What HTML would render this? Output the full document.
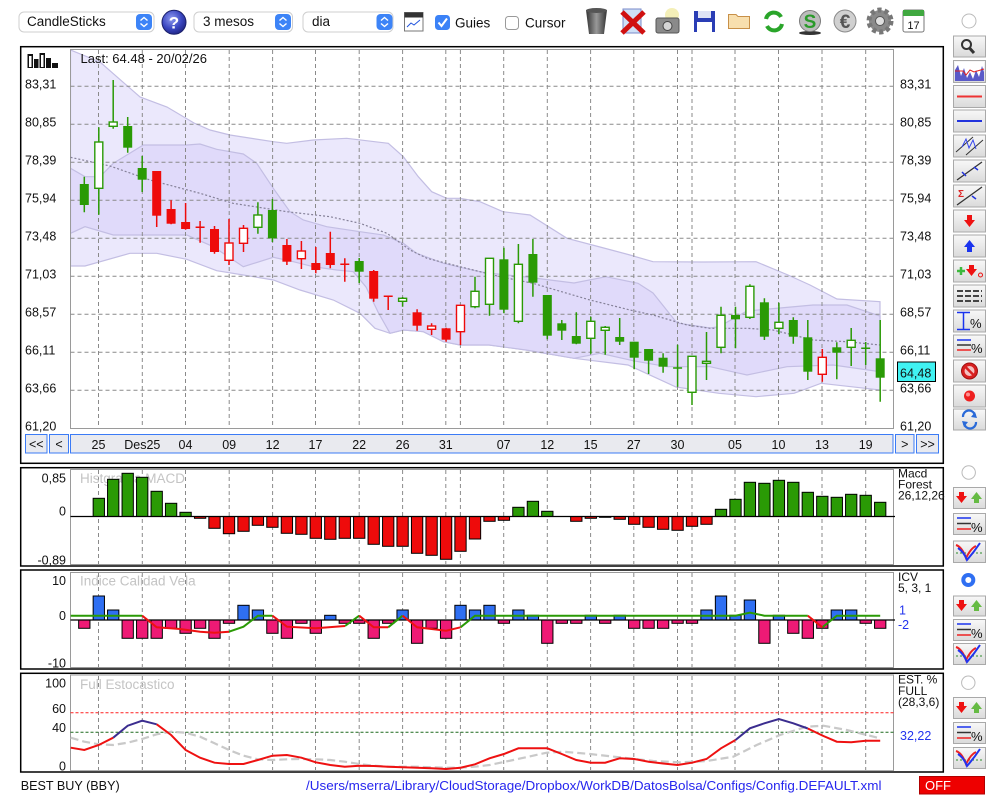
<!DOCTYPE html>
<html><head><meta charset="utf-8"><style>
html,body{margin:0;padding:0;background:#fff;}
svg{display:block;font-family:"Liberation Sans",Arial,sans-serif;}
.t{font-size:12.5px;fill:#111}
.s{font-size:12px;fill:#111}
.wm{font-size:13.5px;fill:#c4c4c4}
.grid{stroke:#8a8a8a;stroke-width:1;stroke-dasharray:4 3;fill:none}
.gw{stroke:#2a9a05;stroke-width:1.5;fill:none}
.rw{stroke:#ee0b0b;stroke-width:1.5;fill:none}
.gf rect{fill:#2a9a05}
.rf rect{fill:#ee0b0b}
.gh rect{fill:#fff;stroke:#2a9a05;stroke-width:1.4}
.rh rect{fill:#fff;stroke:#ee0b0b;stroke-width:1.4}
.mg rect{fill:#2a9a05;stroke:#000;stroke-width:1}
.mr rect{fill:#ee0b0b;stroke:#000;stroke-width:1}
.ib rect{fill:#2f6ff2;stroke:#000;stroke-width:1}
.ip rect{fill:#ee1a75;stroke:#000;stroke-width:1}
.btn{fill:url(#btn);stroke:#a9a9a9;stroke-width:1}
</style></head><body>
<svg width="1000" height="800" viewBox="0 0 1000 800">
<defs>
<linearGradient id="btn" x1="0" y1="0" x2="0" y2="1"><stop offset="0" stop-color="#f8f8f8"/><stop offset="1" stop-color="#dadada"/></linearGradient>
<radialGradient id="hlp" cx="0.4" cy="0.35" r="0.7"><stop offset="0" stop-color="#8e9af0"/><stop offset="0.6" stop-color="#3a46c0"/><stop offset="1" stop-color="#1e2380"/></radialGradient>
<linearGradient id="trash" x1="0" y1="0" x2="1" y2="0"><stop offset="0" stop-color="#333"/><stop offset="0.5" stop-color="#999"/><stop offset="1" stop-color="#333"/></linearGradient>
<clipPath id="pc"><rect x="70.5" y="49.5" width="823" height="379"/></clipPath>
</defs>

<!-- ===== Top toolbar ===== -->
<rect x="19" y="12" width="135" height="20" rx="5" fill="#fff" stroke="#cfcfcf"/>
<rect x="136" y="14" width="16" height="16" rx="4" fill="#3d84f7"/>
<path d="M140.5 20.5L144 17.5L147.5 20.5M140.5 23.5L144 26.5L147.5 23.5" stroke="#fff" stroke-width="1.4" fill="none"/>
<text x="27" y="26" style="font-size:13.5px" fill="#111">CandleSticks</text>
<circle cx="174" cy="22.3" r="12" fill="url(#hlp)" stroke="#1a1f6a" stroke-width="1"/>
<text x="174" y="28.5" text-anchor="middle" style="font-size:17px;font-weight:bold" fill="#fff">?</text>
<rect x="194" y="12" width="98.5" height="20" rx="5" fill="#fff" stroke="#cfcfcf"/>
<rect x="275" y="14" width="16" height="16" rx="4" fill="#3d84f7"/>
<path d="M279.5 20.5L283 17.5L286.5 20.5M279.5 23.5L283 26.5L286.5 23.5" stroke="#fff" stroke-width="1.4" fill="none"/>
<text x="203" y="26" style="font-size:13.5px" fill="#111">3 mesos</text>
<rect x="303" y="12" width="90" height="20" rx="5" fill="#fff" stroke="#cfcfcf"/>
<rect x="376.5" y="14" width="16" height="16" rx="4" fill="#3d84f7"/>
<path d="M381 20.5L384.5 17.5L388 20.5M381 23.5L384.5 26.5L388 23.5" stroke="#fff" stroke-width="1.4" fill="none"/>
<text x="312" y="26" style="font-size:13.5px" fill="#111">dia</text>
<rect x="404.5" y="12.5" width="18.5" height="18.5" fill="#fff" stroke="#777"/>
<rect x="404.5" y="12.5" width="18.5" height="5" fill="#333"/>
<path d="M407 27L411 23L414 25L420 20" stroke="#2255dd" stroke-width="1" fill="none"/>
<rect x="435" y="15" width="15" height="15" rx="3.5" fill="#3b82f7"/>
<path d="M438.5 22.5L441.5 26L447 18.5" stroke="#fff" stroke-width="2" fill="none"/>
<text x="455" y="27.3" style="font-size:13.5px" fill="#111">Guies</text>
<rect x="505.5" y="16.5" width="13" height="13" rx="3" fill="#fff" stroke="#9a9a9a"/>
<text x="525" y="27.3" style="font-size:13.5px" fill="#111">Cursor</text>
<path d="M586 10H607L604 34H589Z" fill="url(#trash)"/>
<ellipse cx="596.5" cy="10.5" rx="10.5" ry="2.5" fill="#555"/>
<rect x="623" y="9" width="18" height="24" fill="#cfe0f7" stroke="#7a8ac8"/>
<path d="M622 12L644 33M644 12L622 33" stroke="#d01010" stroke-width="5"/>
<circle cx="672" cy="15" r="7" fill="#f4efb8"/>
<rect x="656" y="18" width="23" height="15" rx="2" fill="#8a8a8a" stroke="#555"/>
<circle cx="667.5" cy="26" r="4.5" fill="#d4d4d4" stroke="#444"/>
<rect x="694" y="11" width="21" height="21" fill="#2a3db5"/>
<rect x="698" y="11" width="13" height="7" fill="#dfe3f5"/>
<rect x="697" y="22" width="15" height="10" fill="#fff"/>
<path d="M728.5 14.5H736L738 16.5H749.5V28.5H728.5Z" fill="#f8dfae" stroke="#c89048"/>
<path d="M766 19A8 8 0 0 1 781 17" stroke="#2aa52a" stroke-width="4" fill="none"/>
<path d="M782 24A8 8 0 0 1 767 26" stroke="#2aa52a" stroke-width="4" fill="none"/>
<ellipse cx="810" cy="33" rx="11" ry="2" fill="#333"/>
<circle cx="810" cy="21" r="10.5" fill="#bcbcbc" stroke="#7a7a7a"/>
<text x="810" y="28" text-anchor="middle" style="font-size:19px;font-weight:bold" fill="#2a9a2a">S</text>
<circle cx="845" cy="21" r="11" fill="#d0d0d0" stroke="#8a8a8a"/>
<text x="845" y="28" text-anchor="middle" style="font-size:19px;font-weight:bold" fill="#555">€</text>
<circle cx="880" cy="21" r="11" fill="#8a8a8a" stroke="#777" stroke-width="5" stroke-dasharray="4 3"/>
<circle cx="880" cy="21" r="4.5" fill="#e0e0e0" stroke="#555"/>
<rect x="903" y="10" width="21" height="22" rx="2" fill="#fff" stroke="#777"/>
<rect x="903" y="10" width="21" height="6" fill="#3fa83f"/>
<text x="913.5" y="29" text-anchor="middle" style="font-size:11px" fill="#111">17</text>
<circle cx="969" cy="21" r="7" fill="#fff" stroke="#bbb"/>

<!-- ===== Main chart frame ===== -->
<rect x="20.7" y="46.7" width="922.6" height="416.6" fill="#fff" stroke="#000" stroke-width="1.5"/>
<g clip-path="url(#pc)">
<polygon fill="#ebe8fc" stroke="#c3bee3" stroke-width="1.2" points="70.5,50 100,62 140,97 167,107 194,123 210,130 230,135 273.3,141.7 286.7,143.3 313.3,140 346.7,138.3 388.3,143.3 403.3,156.7 418.3,176.7 431.7,191.7 446.7,198.3 460,198.3 480,201.7 503,211.7 530,215 567,238.3 600,247 630,255 653,261.7 703,262 756,261.7 788,275 810,285 837,299 880,301.7 880,390 821,383.3 794,393.3 756,396.7 719,393.3 676,387 628,365 574,358.3 526,350 489,345 460,345 443.3,341.7 423.3,331.7 403.3,330 390,333.3 375,328.3 360,313.3 333.3,300 300,290 273.3,280 243.3,275 216.7,270.7 186.7,259.3 156.7,253.3 130,253.3 85,266 70.5,266"/>
<polygon fill="#e0dafa" stroke="#c3bee3" stroke-width="1.2" points="70.5,168.3 85,176.7 100,176.7 113.3,163.3 143.3,145 186.7,145 200,144 216.7,149.3 243.3,154 256.7,163.3 273.3,188.3 290,211.7 303.3,220 326.7,226.7 360,231.7 383.3,235 403.3,243.3 416.7,253.3 443.3,263.3 480,271.7 488,273 526,277 574,283 606,276.7 638,283.3 653,293 677,323 710,328 719,326.7 747,311 780,308 813,305 847,305 880,316 880,371.7 833,365 787,366.7 747,375 710,366.7 667,366.7 633,360.7 600,353.3 574,358.3 526,350 489,345 460,345 443.3,341.7 423.3,331.7 403.3,330 390,333.3 378,312 366,287 353.3,271.7 336.7,270 313.3,266.7 293.3,261.7 273.3,257.3 243.3,266.7 213.3,246.7 186.7,235 113.3,235 85,226.7 70.5,233.3"/>
</g>
<rect x="70.5" y="49.5" width="823" height="379" fill="none" stroke="#9a9a9a"/>
<path class="grid" d="M98.5 50V428M142.3 50V428M185.5 50V428M229.2 50V428M272.6 50V428M315.5 50V428M359.2 50V428M402.6 50V428M445.8 50V428M460.4 50V428M503.7 50V428M547.3 50V428M590.6 50V428M633.8 50V428M677.5 50V428M692 50V428M735 50V428M778.5 50V428M822 50V428M865.7 50V428"/>
<path class="grid" d="M70.5 86.3H893M70.5 124.3H893M70.5 162.3H893M70.5 200.3H893M70.5 238.3H893M70.5 276.3H893M70.5 314.3H893M70.5 352.3H893M70.5 390.3H893"/>
<polyline fill="none" stroke="#858198" stroke-width="1.2" stroke-dasharray="2 2" points="70.5,157.3 110,166 150,180 200,193.3 233,203.3 287,211.7 330,216.7 360,223.3 387,233.3 410,250 427,258.3 460,266.7 500,276.7 533,283.3 550,288.3 590,300 630,310 653,315 687,325 710,328.3 747,328.3 773,330 813,340 847,341.7 880,345"/>

<path class="gw" d="M84.3 176.7V212.3M98.8 127.3V214.7M113.2 80V128.7M127.7 117V152.7M142.2 156V192M257.9 202.3V233.7M272.4 199V242M359.2 258V283M402.6 297V306.7M475 276.7V308.3M489.5 258.3V315.7M503.9 247.7V313.3M518.4 244V323.3M532.9 239V296.7M547.3 295V339.3M561.8 320V340M576.3 312.3V344.3M590.8 316.7V353.7M605.2 326V354.7M619.7 318V345M634.2 341.7V369.3M648.6 349V374M663.1 353.3V372.7M677.6 344.7V386.7M692 355.7V405M706.5 332V380M721 306.7V353.3M735.5 306.7V348.3M749.9 284.3V319M764.4 298.3V340M778.9 302.7V334.3M793.3 317.3V343.7M807.8 320V380M836.8 342.3V379.3M851.2 328V366M865.7 342V365M880.2 320V401.7M673.1 368H682.1M861.2 348.3H870.2"/>
<path class="rw" d="M156.7 171V227M171.1 200.3V224.3M185.6 203V229.7M200.1 221V242.7M214.5 226V253.7M229 219V265M243.5 225V252M286.9 239V265M301.4 241V269M315.8 247V273.3M330.3 231.7V268.3M344.8 258.3V281.7M373.7 270V301.7M388.2 295.7V310M417.1 309.3V330.7M431.6 323.3V335M446.1 327.7V341.7M460.5 305V345M822.3 349V381.7M195.6 227.3H204.6M340.3 264.3H349.3M383.7 296.3H392.7"/>
<g class="gf">
<rect x="79.8" y="184" width="9" height="21"/><rect x="123.2" y="126" width="9" height="21.7"/><rect x="137.7" y="168" width="9" height="11.7"/><rect x="267.9" y="210" width="9" height="28.3"/><rect x="354.7" y="261" width="9" height="10.7"/><rect x="499.4" y="259.3" width="9" height="50.4"/><rect x="528.4" y="254" width="9" height="28.7"/><rect x="542.8" y="295" width="9" height="40.7"/><rect x="557.3" y="323.3" width="9" height="7.4"/><rect x="571.8" y="336" width="9" height="7.7"/><rect x="615.2" y="337" width="9" height="4.7"/><rect x="629.7" y="341.7" width="9" height="16"/><rect x="644.1" y="349" width="9" height="11.7"/><rect x="658.6" y="357.7" width="9" height="9"/><rect x="731" y="315" width="9" height="4.3"/><rect x="759.9" y="302.3" width="9" height="34.4"/><rect x="788.8" y="320" width="9" height="16.7"/><rect x="803.3" y="337.3" width="9" height="34.4"/><rect x="832.3" y="347.3" width="9" height="5.4"/><rect x="875.7" y="358.3" width="9" height="19.4"/>
</g>
<g class="gh">
<rect x="94.8" y="142" width="8" height="46.3"/><rect x="109.2" y="122" width="8" height="4.3"/><rect x="253.9" y="215" width="8" height="12.3"/><rect x="398.6" y="298.3" width="8" height="3"/><rect x="471" y="291.3" width="8" height="15.4"/><rect x="485.5" y="258.3" width="8" height="46"/><rect x="514.4" y="264.3" width="8" height="57"/><rect x="586.8" y="321.3" width="8" height="17"/><rect x="601.2" y="327.3" width="8" height="3"/><rect x="688" y="356.3" width="8" height="36"/><rect x="702.5" y="361.3" width="8" height="2"/><rect x="717" y="315.3" width="8" height="32"/><rect x="745.9" y="286.3" width="8" height="31"/><rect x="774.9" y="322.3" width="8" height="6"/><rect x="847.2" y="340.3" width="8" height="7"/>
</g>
<g class="rf">
<rect x="152.2" y="171" width="9" height="44.7"/><rect x="166.6" y="209" width="9" height="14.7"/><rect x="181.1" y="222" width="9" height="7"/><rect x="210" y="229" width="9" height="23"/><rect x="282.4" y="245" width="9" height="16.7"/><rect x="311.3" y="263" width="9" height="7"/><rect x="325.8" y="253" width="9" height="12"/><rect x="369.2" y="271" width="9" height="27.7"/><rect x="412.6" y="312.3" width="9" height="13.4"/><rect x="441.6" y="328.3" width="9" height="11.4"/>
</g>
<g class="rh">
<rect x="225" y="243" width="8" height="17.3"/><rect x="239.5" y="228.3" width="8" height="15"/><rect x="297.4" y="251" width="8" height="7.7"/><rect x="427.6" y="326" width="8" height="3.3"/><rect x="456.5" y="305.3" width="8" height="26.4"/><rect x="818.3" y="357.3" width="8" height="17"/>
</g>

<g fill="#111">
<rect x="27.5" y="54" width="5.5" height="14"/><rect x="34" y="59" width="4.5" height="9"/><rect x="39.5" y="53" width="5.5" height="15"/><rect x="46" y="58" width="5" height="10"/><rect x="52" y="63" width="6" height="5"/>
</g>
<rect x="29" y="56" width="2.5" height="11" fill="#fff"/><rect x="41" y="55" width="2.5" height="12" fill="#fff"/>
<text x="80.5" y="63" style="font-size:13px" fill="#111">Last: 64.48 - 20/02/26</text>

<g class="t">
<text x="25" y="88.3">83,31</text><text x="25" y="126.3">80,85</text><text x="25" y="164.3">78,39</text><text x="25" y="202.3">75,94</text><text x="25" y="240.3">73,48</text><text x="25" y="278.3">71,03</text><text x="25" y="316.3">68,57</text><text x="25" y="354.3">66,11</text><text x="25" y="392.3">63,66</text><text x="25" y="430.3">61,20</text>
<text x="900" y="88.3">83,31</text><text x="900" y="126.3">80,85</text><text x="900" y="164.3">78,39</text><text x="900" y="202.3">75,94</text><text x="900" y="240.3">73,48</text><text x="900" y="278.3">71,03</text><text x="900" y="316.3">68,57</text><text x="900" y="354.3">66,11</text><text x="900" y="392.3">63,66</text><text x="900" y="430.3">61,20</text>
</g>
<rect x="897.5" y="362" width="38" height="19.5" fill="#40f2f2" stroke="#000" stroke-width="1"/>
<text x="900" y="377.5" class="t">64,48</text>

<g fill="#e9eaef" stroke="#3b7bf6" stroke-width="1">
<rect x="25.5" y="434.5" width="21.5" height="18.5"/><rect x="49.5" y="434.5" width="19" height="18.5"/><rect x="70.5" y="434.5" width="822.5" height="18.5"/><rect x="895.5" y="434.5" width="18.5" height="18.5"/><rect x="916.5" y="434.5" width="22" height="18.5"/>
</g>
<g class="t" text-anchor="middle">
<text x="36.3" y="448.5">&lt;&lt;</text><text x="59" y="448.5">&lt;</text><text x="904.8" y="448.5">&gt;</text><text x="927.5" y="448.5">&gt;&gt;</text>
<text x="98.5" y="449">25</text><text x="142.3" y="449">Des25</text><text x="185.5" y="449">04</text><text x="229.2" y="449">09</text><text x="272.6" y="449">12</text><text x="315.5" y="449">17</text><text x="359.2" y="449">22</text><text x="402.6" y="449">26</text><text x="445.8" y="449">31</text><text x="503.7" y="449">07</text><text x="547.3" y="449">12</text><text x="590.6" y="449">15</text><text x="633.8" y="449">27</text><text x="677.5" y="449">30</text><text x="735" y="449">05</text><text x="778.5" y="449">10</text><text x="822" y="449">13</text><text x="865.7" y="449">19</text>
</g>

<!-- ===== MACD panel ===== -->
<rect x="20.7" y="467.7" width="922.6" height="98.3" fill="#fff" stroke="#000" stroke-width="1.5"/>
<rect x="70.5" y="469.5" width="823" height="95" fill="none" stroke="#9a9a9a"/>
<path class="grid" d="M98.5 470v94M142.3 470v94M185.5 470v94M229.2 470v94M272.6 470v94M315.5 470v94M359.2 470v94M402.6 470v94M445.8 470v94M460.4 470v94M503.7 470v94M547.3 470v94M590.6 470v94M633.8 470v94M677.5 470v94M692 470v94M735 470v94M778.5 470v94M822 470v94M865.7 470v94"/>
<text x="80" y="483" class="wm">Histgrama MACD</text>
<g class="mg">
<rect x="93.15" y="498.3" width="11.3" height="18.2"/><rect x="107.55" y="479.3" width="11.3" height="37.2"/><rect x="122.05" y="473.3" width="11.3" height="43.2"/><rect x="136.55" y="477.3" width="11.3" height="39.2"/><rect x="151.05" y="491.3" width="11.3" height="25.2"/><rect x="165.45" y="503.3" width="11.3" height="13.2"/><rect x="179.95" y="512.3" width="11.3" height="4.2"/><rect x="512.75" y="507.3" width="11.3" height="9.2"/><rect x="527.25" y="501.3" width="11.3" height="15.2"/><rect x="541.65" y="511.3" width="11.3" height="5.2"/><rect x="715.35" y="509.3" width="11.3" height="7.2"/><rect x="729.85" y="499.3" width="11.3" height="17.2"/><rect x="744.25" y="482.3" width="11.3" height="34.2"/><rect x="758.75" y="483.3" width="11.3" height="33.2"/><rect x="773.25" y="480.3" width="11.3" height="36.2"/><rect x="787.65" y="482.3" width="11.3" height="34.2"/><rect x="802.15" y="492.3" width="11.3" height="24.2"/><rect x="816.65" y="496.3" width="11.3" height="20.2"/><rect x="831.15" y="497.3" width="11.3" height="19.2"/><rect x="845.55" y="494.3" width="11.3" height="22.2"/><rect x="860.05" y="495.3" width="11.3" height="21.2"/><rect x="874.55" y="502.3" width="11.3" height="14.2"/>
</g>
<g class="mr">
<rect x="194.45" y="516.5" width="11.3" height="1.8"/><rect x="208.85" y="516.5" width="11.3" height="11.8"/><rect x="223.35" y="516.5" width="11.3" height="17.2"/><rect x="237.85" y="516.5" width="11.3" height="14.8"/><rect x="252.25" y="516.5" width="11.3" height="8.8"/><rect x="266.75" y="516.5" width="11.3" height="10.8"/><rect x="281.25" y="516.5" width="11.3" height="16.8"/><rect x="295.75" y="516.5" width="11.3" height="17.8"/><rect x="310.15" y="516.5" width="11.3" height="21.8"/><rect x="324.65" y="516.5" width="11.3" height="22.8"/><rect x="339.15" y="516.5" width="11.3" height="21.8"/><rect x="353.55" y="516.5" width="11.3" height="21.8"/><rect x="368.05" y="516.5" width="11.3" height="27.8"/><rect x="382.55" y="516.5" width="11.3" height="29.8"/><rect x="396.95" y="516.5" width="11.3" height="29.8"/><rect x="411.45" y="516.5" width="11.3" height="36.8"/><rect x="425.95" y="516.5" width="11.3" height="38.8"/><rect x="440.45" y="516.5" width="11.3" height="42.8"/><rect x="454.85" y="516.5" width="11.3" height="34.8"/><rect x="469.35" y="516.5" width="11.3" height="22.5"/><rect x="483.85" y="516.5" width="11.3" height="4.8"/><rect x="498.25" y="516.5" width="11.3" height="3.8"/><rect x="570.65" y="516.5" width="11.3" height="4.8"/><rect x="585.15" y="516.5" width="11.3" height="1.8"/><rect x="599.55" y="516.5" width="11.3" height="0.8"/><rect x="614.05" y="516.5" width="11.3" height="2.8"/><rect x="628.55" y="516.5" width="11.3" height="7.8"/><rect x="642.95" y="516.5" width="11.3" height="10.8"/><rect x="657.45" y="516.5" width="11.3" height="12.8"/><rect x="671.95" y="516.5" width="11.3" height="13.8"/><rect x="686.35" y="516.5" width="11.3" height="9.8"/><rect x="700.85" y="516.5" width="11.3" height="7.8"/>
</g>
<path d="M70.5 516.5H895" stroke="#000" stroke-width="1.2"/>
<g class="t" text-anchor="end">
<text x="66" y="482.7">0,85</text><text x="66" y="515.7">0</text><text x="66" y="564.5">-0,89</text>
</g>
<g class="s"><text x="898" y="477.5">Macd</text><text x="898" y="488.5">Forest</text><text x="898" y="499.5">26,12,26</text></g>

<!-- ===== ICV panel ===== -->
<rect x="20.7" y="570" width="922.6" height="99" fill="#fff" stroke="#000" stroke-width="1.5"/>
<rect x="70.5" y="572.5" width="823" height="95" fill="none" stroke="#9a9a9a"/>
<path class="grid" d="M98.5 573v94M142.3 573v94M185.5 573v94M229.2 573v94M272.6 573v94M315.5 573v94M359.2 573v94M402.6 573v94M445.8 573v94M460.4 573v94M503.7 573v94M547.3 573v94M590.6 573v94M633.8 573v94M677.5 573v94M692 573v94M735 573v94M778.5 573v94M822 573v94M865.7 573v94"/>
<text x="80" y="585.5" class="wm">Indice Calidad Vela</text>
<g class="ib">
<rect x="93.15" y="596" width="11.3" height="24"/><rect x="107.55" y="610" width="11.3" height="10"/><rect x="237.85" y="605.3" width="11.3" height="14.7"/><rect x="252.25" y="610" width="11.3" height="10"/><rect x="324.65" y="615.3" width="11.3" height="4.7"/><rect x="396.95" y="610" width="11.3" height="10"/><rect x="454.85" y="605.3" width="11.3" height="14.7"/><rect x="469.35" y="610" width="11.3" height="10"/><rect x="483.85" y="605.3" width="11.3" height="14.7"/><rect x="512.75" y="610" width="11.3" height="10"/><rect x="527.25" y="615.3" width="11.3" height="4.7"/><rect x="585.15" y="615.3" width="11.3" height="4.7"/><rect x="614.05" y="615.3" width="11.3" height="4.7"/><rect x="700.85" y="610" width="11.3" height="10"/><rect x="715.35" y="596" width="11.3" height="24"/><rect x="729.85" y="615.3" width="11.3" height="4.7"/><rect x="744.25" y="600" width="11.3" height="20"/><rect x="773.25" y="615.3" width="11.3" height="4.7"/><rect x="831.15" y="610" width="11.3" height="10"/><rect x="845.55" y="610" width="11.3" height="10"/>
</g>
<g class="ip">
<rect x="78.65" y="620" width="11.3" height="8.3"/><rect x="122.05" y="620" width="11.3" height="18.3"/><rect x="136.55" y="620" width="11.3" height="18.3"/><rect x="151.05" y="620" width="11.3" height="18.3"/><rect x="165.45" y="620" width="11.3" height="8.3"/><rect x="179.95" y="620" width="11.3" height="13.3"/><rect x="194.45" y="620" width="11.3" height="8.3"/><rect x="208.85" y="620" width="11.3" height="18.3"/><rect x="223.35" y="620" width="11.3" height="3.3"/><rect x="266.75" y="620" width="11.3" height="13.3"/><rect x="281.25" y="620" width="11.3" height="18.3"/><rect x="295.75" y="620" width="11.3" height="3.3"/><rect x="310.15" y="620" width="11.3" height="13.3"/><rect x="339.15" y="620" width="11.3" height="3.3"/><rect x="353.55" y="620" width="11.3" height="3.3"/><rect x="368.05" y="620" width="11.3" height="18.3"/><rect x="382.55" y="620" width="11.3" height="3.3"/><rect x="411.45" y="620" width="11.3" height="23.3"/><rect x="425.95" y="620" width="11.3" height="8.3"/><rect x="440.45" y="620" width="11.3" height="18.3"/><rect x="498.25" y="620" width="11.3" height="3.3"/><rect x="541.65" y="620" width="11.3" height="23.3"/><rect x="556.15" y="620" width="11.3" height="3.3"/><rect x="570.65" y="620" width="11.3" height="3.3"/><rect x="599.55" y="620" width="11.3" height="3.3"/><rect x="628.55" y="620" width="11.3" height="8.3"/><rect x="642.95" y="620" width="11.3" height="8.3"/><rect x="657.45" y="620" width="11.3" height="8.3"/><rect x="671.95" y="620" width="11.3" height="3.3"/><rect x="686.35" y="620" width="11.3" height="3.3"/><rect x="758.75" y="620" width="11.3" height="23.3"/><rect x="787.65" y="620" width="11.3" height="13.3"/><rect x="802.15" y="620" width="11.3" height="18.3"/><rect x="816.65" y="620" width="11.3" height="8.3"/><rect x="860.05" y="620" width="11.3" height="3.3"/><rect x="874.55" y="620" width="11.3" height="8.3"/>
</g>
<path d="M70.5 620H895" stroke="#000" stroke-width="1.2"/>
<path d="M70.7 615.7H142.2M229 631.7L243.5 626.7L257.9 615.7H272.4M345 626L359.2 615.7M388.2 627.3L402.6 615.7M460.5 627.3L475 615.7H735.5L749.9 612.7L764.4 615.7H807.8M822.3 627.3L836.8 615.7H880.2" stroke="#2a9a05" stroke-width="2" fill="none"/>
<path d="M142.2 615.7L156.7 627.3L180 629L200.1 631.7L214.5 632.7L229 631.7M272.4 615.7L286.9 626.7L315.8 628.3L345 626M359.2 615.7L373.7 627.3L388.2 627.3M402.6 615.7L417.1 627.3L446.1 630.7L460.5 627.3M807.8 615.7L822.3 627.3" stroke="#ee1111" stroke-width="2" fill="none"/>
<g class="t" text-anchor="end"><text x="66" y="585">10</text><text x="66" y="620">0</text><text x="66" y="667.5">-10</text></g>
<g class="s"><text x="898" y="581">ICV</text><text x="898" y="592">5, 3, 1</text></g>
<text x="899" y="614.3" class="t" style="fill:#2233ee">1</text>
<text x="898" y="629" class="t" style="fill:#2233ee">-2</text>

<!-- ===== Stochastic panel ===== -->
<rect x="20.7" y="673.3" width="922.6" height="98.7" fill="#fff" stroke="#000" stroke-width="1.5"/>
<rect x="70.5" y="675" width="823" height="95.7" fill="none" stroke="#9a9a9a"/>
<path class="grid" d="M98.5 676v94M142.3 676v94M185.5 676v94M229.2 676v94M272.6 676v94M315.5 676v94M359.2 676v94M402.6 676v94M445.8 676v94M460.4 676v94M503.7 676v94M547.3 676v94M590.6 676v94M633.8 676v94M677.5 676v94M692 676v94M735 676v94M778.5 676v94M822 676v94M865.7 676v94"/>
<text x="80" y="689" class="wm">Full Estocastico</text>
<path d="M70.5 712.7H895" stroke="#ff2020" stroke-width="1" stroke-dasharray="3 2"/>
<path d="M70.5 732.3H895" stroke="#1f6a1f" stroke-width="1" stroke-dasharray="3 2"/>
<polyline fill="none" stroke="#c9c9c9" stroke-width="2.2" stroke-dasharray="8 4" points="70.7,737.7 84.3,741.7 98.8,744.3 113.2,745 127.7,742.7 142.2,739 156.7,734.3 171.1,731.7 185.6,732.7 200.1,736.7 214.5,743.3 229,750 243.5,755.7 257.9,759.3 272.4,760 286.9,759.3 301.4,759 315.8,759.3 330.3,760 344.8,761.7 359.2,764 373.7,765.7 388.2,766.7 402.6,766.7 417.1,766.7 431.6,767.3 446.1,767.7 460.5,767.7 475,766.7 489.5,765 513.3,760 546.7,752.7 563.3,751.7 590,754 623.3,757.7 653.3,761 680,762.3 706.7,761 733.3,756.7 756.7,745 780,735 806.7,726.7 823.3,725.7 846.7,730 880,738.3"/>
<polyline fill="none" stroke="#ee1111" stroke-width="2" points="70.7,747.7 84.3,750 98.8,745 113.2,737.7"/>
<polyline fill="none" stroke="#3b2d8f" stroke-width="2" points="113.2,737.7 127.7,725.7 142.2,720.7 156.7,724.3"/>
<polyline fill="none" stroke="#ee1111" stroke-width="2" points="156.7,724.3 171.1,735 185.6,750 200.1,757.7 214.5,762.7 229,764 243.5,764 257.9,760 272.4,755.7 286.9,755 301.4,757.7 315.8,762.3 330.3,765 344.8,766.7 359.2,765.7 373.7,766 388.2,766.7 402.6,767.3 417.1,767.7 431.6,768.3 446.1,769 460.5,767.7 475,764.3 489.5,758.3 503.9,754 518.4,748.3 532.9,748.3 547.3,748.3 561.8,754 576.3,760 590.8,762.7 605.2,762.7 619.7,758.3 634.2,759 648.6,761.7 663.1,763.5 677.6,765 692,762.7 706.5,759 721,748.3 735.5,740"/>
<polyline fill="none" stroke="#3b2d8f" stroke-width="2" points="735.5,740 749.9,728.3 764.4,723.3 778.9,719 793.3,723.3 807.8,728.5"/>
<polyline fill="none" stroke="#ee1111" stroke-width="2" points="807.8,728.5 822.3,735.5 836.8,741.7 851.2,742.3 865.7,740.7 880.2,740.7"/>
<g class="t" text-anchor="end"><text x="66" y="687.7">100</text><text x="66" y="713">60</text><text x="66" y="732">40</text><text x="66" y="770.5">0</text></g>
<g class="s"><text x="898" y="683.7">EST. %</text><text x="898" y="695">FULL</text><text x="898" y="706">(28,3,6)</text></g>
<text x="900" y="740" class="t" style="fill:#2233ee">32,22</text>

<!-- ===== Bottom status ===== -->
<text x="20.7" y="790" style="font-size:12.8px" fill="#111" textLength="99" lengthAdjust="spacingAndGlyphs">BEST BUY (BBY)</text>
<text x="306" y="790" style="font-size:13px" fill="#2626ee" textLength="575.5" lengthAdjust="spacingAndGlyphs">/Users/mserra/Library/CloudStorage/Dropbox/WorkDB/DatosBolsa/Configs/Config.DEFAULT.xml</text>
<rect x="919.5" y="776.5" width="65" height="17.5" fill="#ee0000" stroke="#b00000"/>
<text x="925" y="790" style="font-size:13px" fill="#fff">OFF</text>

<!-- ===== Right toolbar ===== -->
<g>
<rect class="btn" x="953.5" y="36" width="32" height="21"/>
<circle cx="966.5" cy="44.5" r="4.5" fill="#eee" stroke="#333" stroke-width="2"/>
<path d="M969.5 48L974 53" stroke="#333" stroke-width="3"/>
<rect class="btn" x="953.5" y="60.5" width="32" height="22"/>
<rect x="955" y="62" width="29" height="19" fill="#fff"/>
<path d="M955 81V70L958 65L961 76L964 68L967 78L970 72L973 79L976 70L979 77L982 66L984 72V81Z" fill="#5a5ac8"/>
<path d="M955 71H963L966 75L970 70L974 72L984 69" stroke="#e02020" stroke-width="1" fill="none"/>
<rect class="btn" x="953.5" y="85.5" width="32" height="22"/>
<path d="M957 96.5H982" stroke="#e33" stroke-width="2"/>
<rect class="btn" x="953.5" y="110" width="32" height="22"/>
<path d="M957 121H982" stroke="#2233dd" stroke-width="2"/>
<rect class="btn" x="953.5" y="135" width="32" height="22"/>
<path d="M956 152L973 137M966 155L983 140" stroke="#333" stroke-width="1"/>
<path d="M962 147L966 139L969 148L973 140L976 149" stroke="#3344ee" stroke-width="1" fill="none"/>
<rect class="btn" x="953.5" y="160" width="32" height="22"/>
<path d="M957 180L982 162" stroke="#333" stroke-width="1.3"/>
<path d="M962 172L966 176M974 167L978 170" stroke="#2233dd" stroke-width="1.5"/>
<rect class="btn" x="953.5" y="185" width="32" height="22"/>
<path d="M957 205L982 187" stroke="#333" stroke-width="1.3"/>
<text x="958" y="197" style="font-size:10px;font-weight:bold" fill="#dd2222">Σ</text>
<path d="M972 196L976 199" stroke="#2233dd" stroke-width="1.5"/>
<rect class="btn" x="953.5" y="210" width="32" height="22"/>
<path d="M967 215H972V220H975L969.5 227L964 220H967Z" fill="#ee1111"/>
<rect class="btn" x="953.5" y="235" width="32" height="22"/>
<path d="M967 252H972V247H975L969.5 240L964 247H967Z" fill="#1a33ee"/>
<rect class="btn" x="953.5" y="260" width="32" height="22"/>
<path d="M957 271H965M961 267V275" stroke="#3db83d" stroke-width="2.5"/>
<path d="M969 265H974V269H977L971.5 276L966 269H969Z" fill="#ee1111"/>
<circle cx="980.5" cy="275" r="2" fill="none" stroke="#ee1111"/>
<rect class="btn" x="953.5" y="285" width="32" height="22"/>
<path d="M957 291H982M957 296H982M957 301H982" stroke="#444" stroke-width="2" stroke-dasharray="6 2"/>
<rect class="btn" x="953.5" y="310" width="32" height="22"/>
<path d="M957 312.5H970M957 329.5H970M963.5 313V329" stroke="#1a33ee" stroke-width="1.5"/>
<text x="970" y="328" style="font-size:13px" fill="#111">%</text>
<rect class="btn" x="953.5" y="335" width="32" height="22"/>
<path d="M957 340H971" stroke="#1a33ee" stroke-width="1.5"/><path d="M957 345H971" stroke="#333" stroke-width="1.5"/><path d="M957 350H971" stroke="#ee2222" stroke-width="1.5"/>
<text x="971" y="353" style="font-size:13px" fill="#111">%</text>
<rect class="btn" x="953.5" y="360" width="32" height="22"/>
<circle cx="969.5" cy="371" r="8" fill="#d82020" stroke="#a01010"/>
<circle cx="969.5" cy="371" r="5" fill="#f4c0c0"/>
<path d="M965.5 367L973.5 375" stroke="#d82020" stroke-width="2.5"/>
<rect class="btn" x="953.5" y="385" width="32" height="22"/>
<circle cx="969.5" cy="396" r="5.5" fill="#ee2020"/>
<circle cx="968" cy="394.5" r="2" fill="#ff9090"/>
<rect class="btn" x="953.5" y="409" width="32" height="21"/>
<path d="M963 417A6 6 0 0 1 975 416M976 422A6 6 0 0 1 964 423" stroke="#2a6ad8" stroke-width="2.2" fill="none"/>
<path d="M975 412L977 418L971 417Z M964 427L962 421L968 422Z" fill="#2a6ad8"/>
</g>

<circle cx="968.7" cy="472.5" r="6.7" fill="#fff" stroke="#bbb"/>
<rect class="btn" x="953.5" y="487.5" width="32" height="21"/>
<path d="M959 492H964V496H967L961.5 503L956 496H959Z" fill="#ee1111"/>
<path d="M974 503H979V499H982L976.5 492L971 499H974Z" fill="#66bb44"/>
<rect class="btn" x="953.5" y="513.5" width="32" height="21"/>
<path d="M957 518H971" stroke="#1a33ee" stroke-width="1.5"/><path d="M957 523.5H971" stroke="#333" stroke-width="1.5"/><path d="M957 529H971" stroke="#ee2222" stroke-width="1.5"/>
<text x="971" y="532" style="font-size:13px" fill="#111">%</text>
<rect class="btn" x="953.5" y="541" width="32" height="21.5"/>
<path d="M956 553H983" stroke="#2a8a2a" stroke-width="1" stroke-dasharray="2 2"/>
<path d="M956 545Q962 547 966 558Q971 548 976 546" stroke="#ee2222" stroke-width="2" fill="none"/>
<path d="M958 548Q964 552 967 560Q974 552 980 543" stroke="#2233ee" stroke-width="2" fill="none"/>

<circle cx="968.3" cy="580" r="7" fill="#2f6ff2"/>
<circle cx="968.3" cy="580" r="3" fill="#fff"/>
<rect class="btn" x="953.5" y="596" width="32" height="20"/>
<path d="M959 600H964V604H967L961.5 611L956 604H959Z" fill="#ee1111"/>
<path d="M974 611H979V607H982L976.5 600L971 607H974Z" fill="#66bb44"/>
<rect class="btn" x="953.5" y="619.5" width="32" height="21"/>
<path d="M957 624H971" stroke="#1a33ee" stroke-width="1.5"/><path d="M957 629.5H971" stroke="#333" stroke-width="1.5"/><path d="M957 635H971" stroke="#ee2222" stroke-width="1.5"/>
<text x="971" y="638" style="font-size:13px" fill="#111">%</text>
<rect class="btn" x="953.5" y="643.5" width="32" height="21"/>
<path d="M956 656H983" stroke="#2a8a2a" stroke-width="1" stroke-dasharray="2 2"/>
<path d="M956 647Q962 649 966 660Q971 650 976 648" stroke="#ee2222" stroke-width="2" fill="none"/>
<path d="M958 650Q964 654 967 662Q974 654 980 645" stroke="#2233ee" stroke-width="2" fill="none"/>

<circle cx="968.3" cy="682.7" r="6.7" fill="#fff" stroke="#bbb"/>
<rect class="btn" x="953.5" y="697.5" width="32" height="21"/>
<path d="M959 702H964V706H967L961.5 713L956 706H959Z" fill="#ee1111"/>
<path d="M974 713H979V709H982L976.5 702L971 709H974Z" fill="#66bb44"/>
<rect class="btn" x="953.5" y="722.5" width="32" height="21"/>
<path d="M957 727H971" stroke="#1a33ee" stroke-width="1.5"/><path d="M957 732.5H971" stroke="#333" stroke-width="1.5"/><path d="M957 738H971" stroke="#ee2222" stroke-width="1.5"/>
<text x="971" y="741" style="font-size:13px" fill="#111">%</text>
<rect class="btn" x="953.5" y="747.5" width="32" height="21"/>
<path d="M956 760H983" stroke="#2a8a2a" stroke-width="1" stroke-dasharray="2 2"/>
<path d="M956 751Q962 753 966 764Q971 754 976 752" stroke="#ee2222" stroke-width="2" fill="none"/>
<path d="M958 754Q964 758 967 766Q974 758 980 749" stroke="#2233ee" stroke-width="2" fill="none"/>
</svg>
</body></html>
